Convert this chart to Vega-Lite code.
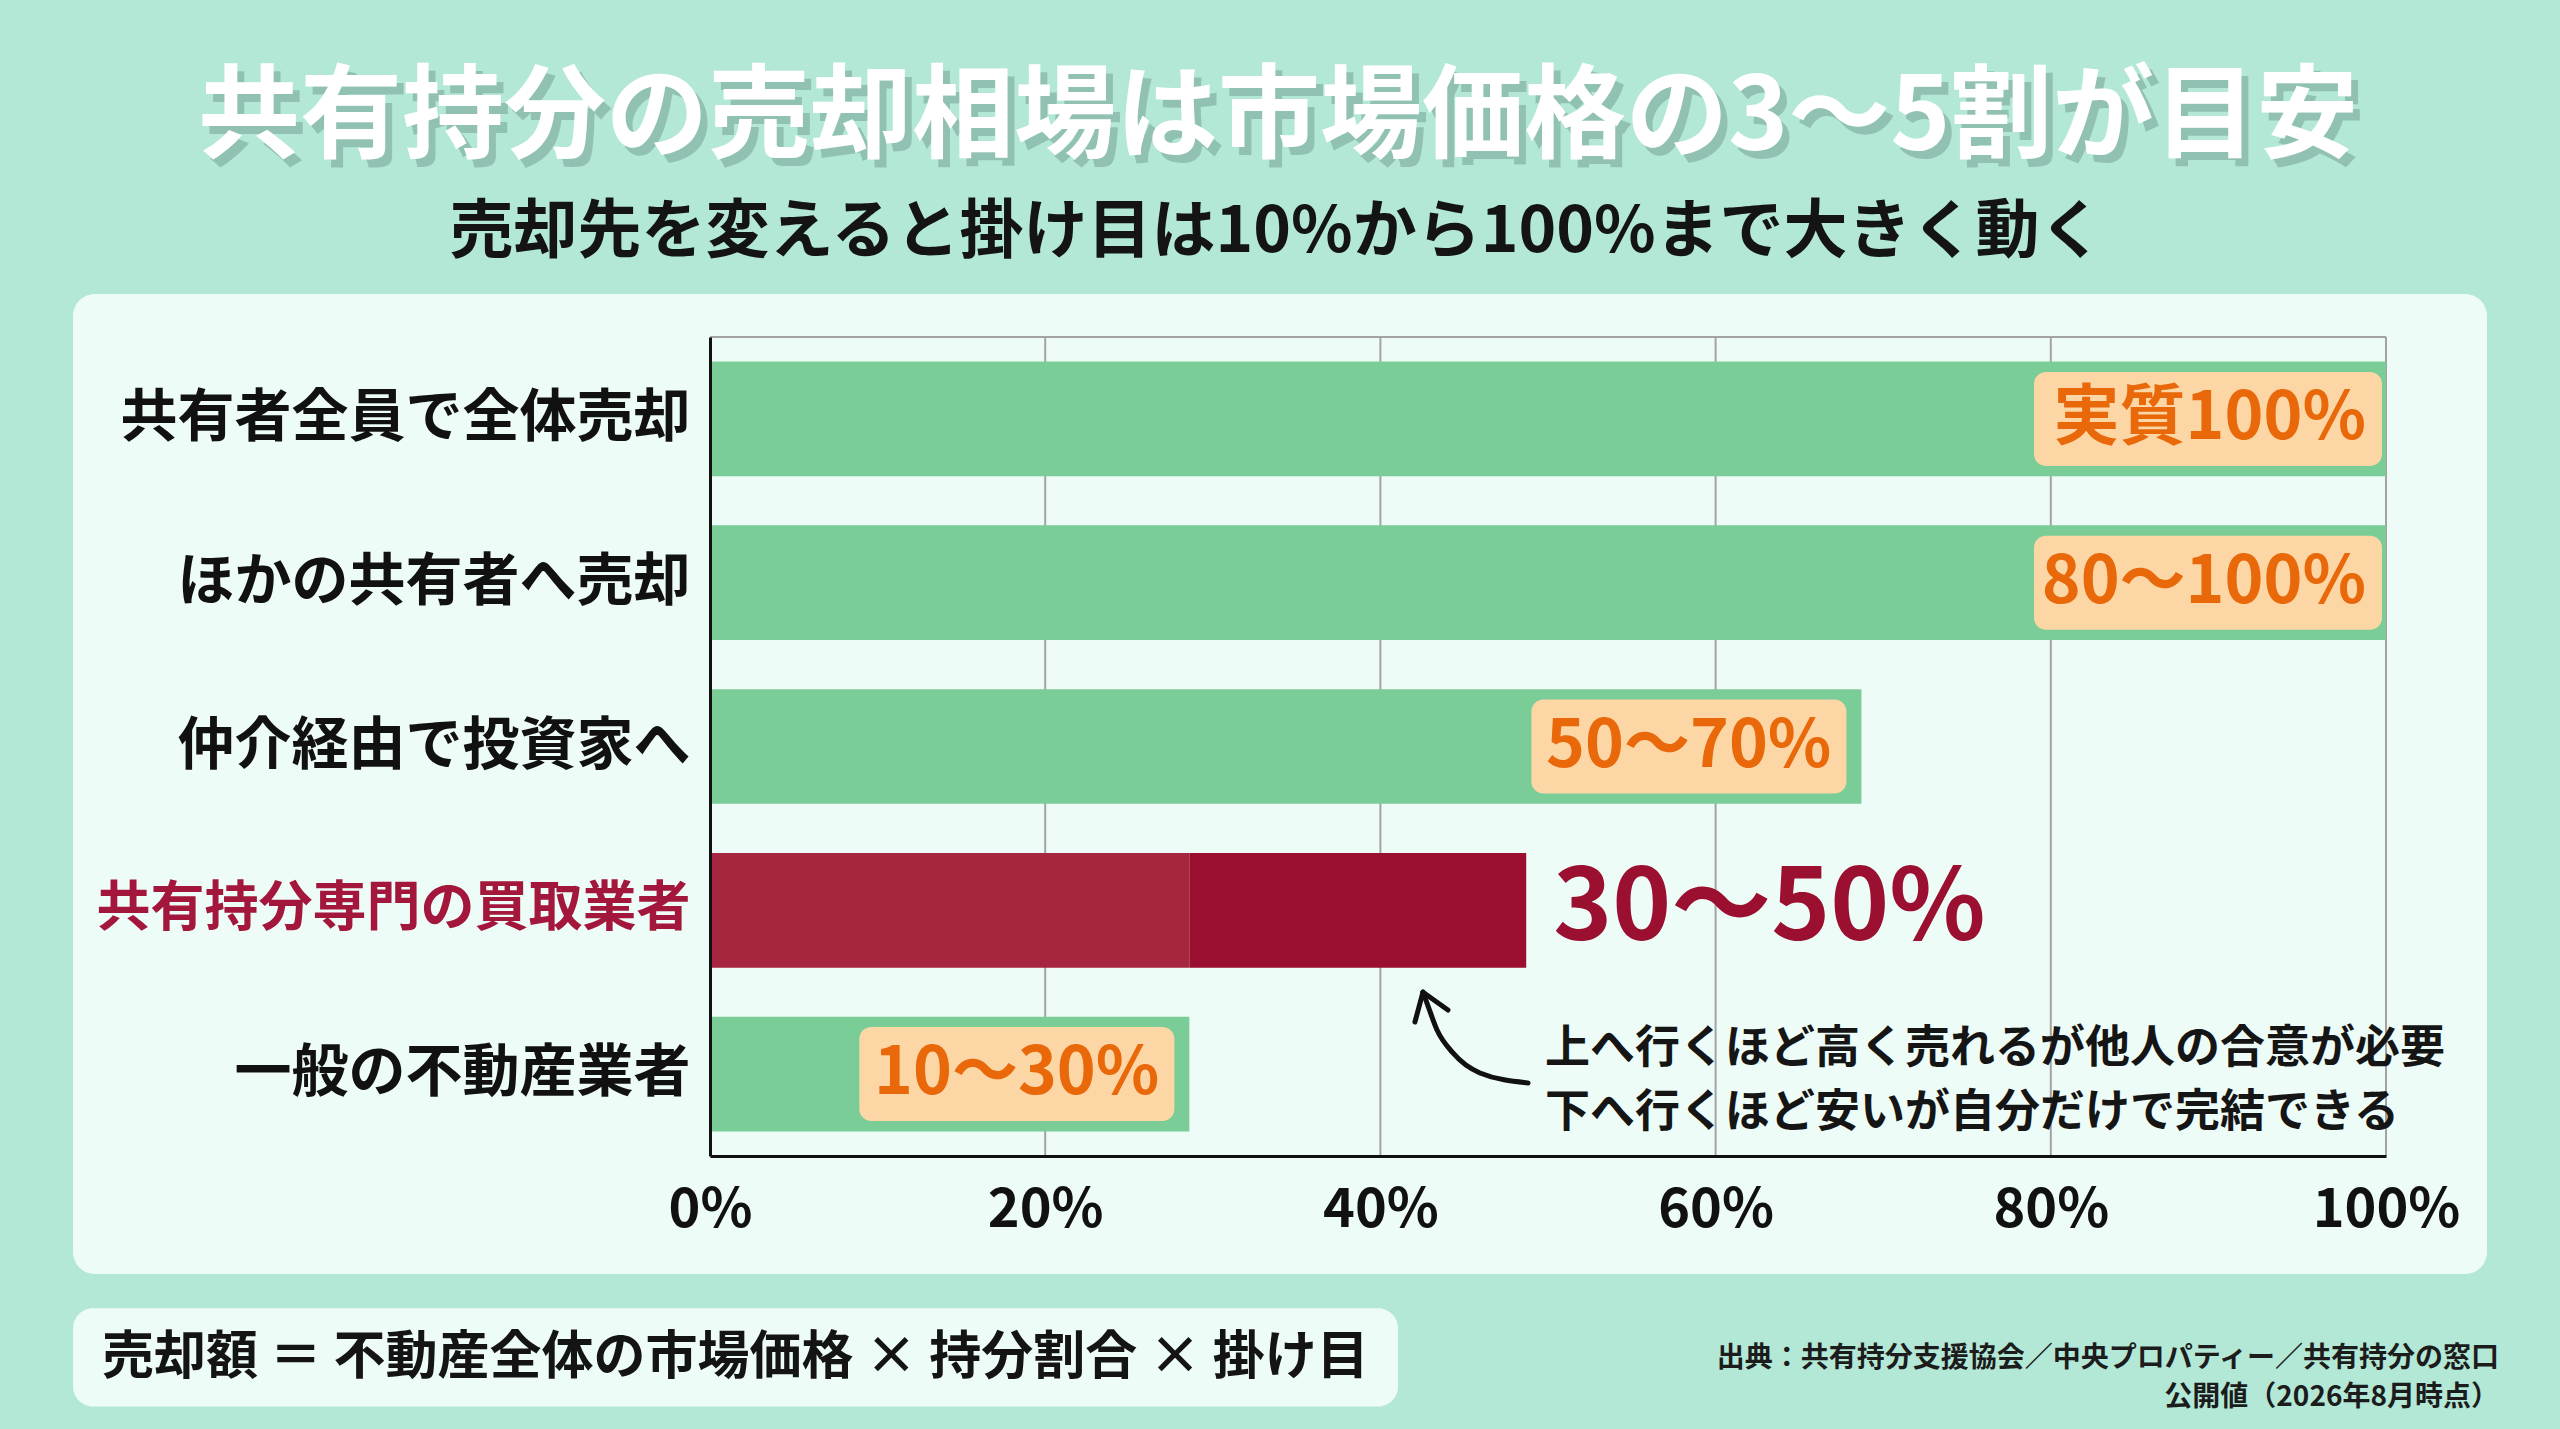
{
  "$schema": "https://vega.github.io/schema/vega-lite/v6.json",
  "width": 2414,
  "height": 980,
  "autosize": {"type": "none"},
  "padding": {"left": 73, "top": 294, "right": 73, "bottom": 155},
  "background": "#b3e8d7",
  "config": {
    "view": {"stroke": null, "fill": "#eefcf8", "cornerRadius": 22},
    "font": "Noto Sans CJK JP",
    "text": {"font": "Noto Sans CJK JP"}
  },
  "datasets": {
    "bars": [
      {"cat": "共有者全員で全体売却", "lo": 0, "hi": 100, "seg": "green"},
      {"cat": "ほかの共有者へ売却", "lo": 0, "hi": 100, "seg": "green"},
      {"cat": "仲介経由で投資家へ", "lo": 0, "hi": 68.7, "seg": "green"},
      {"cat": "共有持分専門の買取業者", "lo": 0, "hi": 28.6, "seg": "light"},
      {"cat": "共有持分専門の買取業者", "lo": 28.6, "hi": 48.7, "seg": "dark"},
      {"cat": "一般の不動産業者", "lo": 0, "hi": 28.6, "seg": "green"}
    ],
    "labels": [
      {"cat": "共有者全員で全体売却", "hi": 100, "label": "実質100%"},
      {"cat": "ほかの共有者へ売却", "hi": 100, "label": "80～100%"},
      {"cat": "仲介経由で投資家へ", "hi": 68.7, "label": "50～70%"},
      {"cat": "一般の不動産業者", "hi": 28.6, "label": "10～30%"}
    ],
    "arrow": [
      {"part": "curve", "o": 1, "ax": 42.54, "ay": 4.0},
      {"part": "curve", "o": 2, "ax": 42.78, "ay": 4.066},
      {"part": "curve", "o": 3, "ax": 43.38, "ay": 4.231},
      {"part": "curve", "o": 4, "ax": 44.33, "ay": 4.371},
      {"part": "curve", "o": 5, "ax": 45.94, "ay": 4.493},
      {"part": "curve", "o": 6, "ax": 48.81, "ay": 4.554},
      {"part": "head1", "o": 1, "ax": 44.03, "ay": 4.109},
      {"part": "head1", "o": 2, "ax": 42.54, "ay": 4.0},
      {"part": "head2", "o": 1, "ax": 42.06, "ay": 4.182},
      {"part": "head2", "o": 2, "ax": 42.54, "ay": 4.0}
    ]
  },
  "resolve": {"scale": {"y": "independent"}},
  "layer": [
    {
      "data": {"values": [{"name": "formula"}]},
      "mark": {"type": "rect", "fill": "#eefcf8", "cornerRadius": 20},
      "encoding": {
        "x": {"datum": -38.0, "type": "quantitative", "title": null},
        "x2": {"datum": 41.05},
        "y": {"datum": 5.93, "type": "quantitative", "scale": {"domain": [0, 5], "range": [43, 862], "nice": false, "zero": false}, "axis": null},
        "y2": {"datum": 6.53}
      }
    },
    {
      "data": {"values": [{"g": 20}, {"g": 40}, {"g": 60}, {"g": 80}, {"g": 100}]},
      "mark": {"type": "rule", "color": "#a3a3a3", "strokeWidth": 2},
      "encoding": {
        "x": {"field": "g", "type": "quantitative", "title": null},
        "y": {"datum": 0, "type": "quantitative", "scale": {"domain": [0, 5], "range": [43, 862], "nice": false, "zero": false}, "axis": null},
        "y2": {"datum": 5}
      }
    },
    {
      "data": {"values": [{"name": "top"}]},
      "mark": {"type": "rule", "color": "#a3a3a3", "strokeWidth": 2},
      "encoding": {
        "x": {"datum": 0, "type": "quantitative", "title": null},
        "x2": {"datum": 100},
        "y": {"datum": 0, "type": "quantitative", "scale": {"domain": [0, 5], "range": [43, 862], "nice": false, "zero": false}, "axis": null}
      }
    },
    {
      "data": {"name": "bars"},
      "mark": {"type": "bar", "orient": "horizontal"},
      "encoding": {
        "x": {
          "field": "lo", "type": "quantitative",
          "scale": {"domain": [0, 100], "range": [637, 2313], "nice": false},
          "axis": {
            "title": null, "values": [0, 20, 40, 60, 80, 100], "offset": -118,
            "labelExpr": "datum.value + '%'", "labelFontSize": 54, "labelFontWeight": "bold",
            "labelColor": "#111111", "labelFont": "Noto Sans CJK JP", "labelPadding": 27,
            "labelFlush": false, "labelOverlap": false, "ticks": false, "grid": false,
            "domainColor": "#111111", "domainWidth": 3, "zindex": 1
          }
        },
        "x2": {"field": "hi"},
        "y": {
          "field": "cat", "type": "nominal", "sort": null,
          "scale": {
            "domain": ["共有者全員で全体売却", "ほかの共有者へ売却", "仲介経由で投資家へ", "共有持分専門の買取業者", "一般の不動産業者"],
            "range": [43, 862], "paddingInner": 0.3, "paddingOuter": 0.15
          },
          "axis": {
            "title": null, "orient": "left", "offset": -637, "ticks": false, "labelLimit": 0,
            "labelFont": "Noto Sans CJK JP", "labelFontWeight": "bold", "labelPadding": 20,
            "labelFontSize": {"condition": {"test": "datum.value == '共有持分専門の買取業者'", "value": 54}, "value": 57},
            "labelColor": {"condition": {"test": "datum.value == '共有持分専門の買取業者'", "value": "#a3173c"}, "value": "#111111"},
            "domainColor": "#111111", "domainWidth": 3, "zindex": 1
          }
        },
        "color": {
          "field": "seg", "type": "nominal",
          "scale": {"domain": ["green", "light", "dark"], "range": ["#7bcd98", "#a7263f", "#9a0f30"]},
          "legend": null
        }
      }
    },
    {
      "data": {"name": "labels"},
      "transform": [{"filter": "datum.hi == 100"}],
      "mark": {"type": "bar", "orient": "horizontal", "color": "#fdd6a6", "cornerRadius": 12, "height": {"band": 0.82}, "xOffset": -352, "x2Offset": -4},
      "encoding": {
        "x": {"field": "hi", "type": "quantitative", "title": null},
        "x2": {"field": "hi"},
        "y": {"field": "cat", "type": "nominal", "sort": null, "axis": null,
              "scale": {"domain": ["共有者全員で全体売却", "ほかの共有者へ売却", "仲介経由で投資家へ", "共有持分専門の買取業者", "一般の不動産業者"], "range": [43, 862], "paddingInner": 0.3, "paddingOuter": 0.15}}
      }
    },
    {
      "data": {"name": "labels"},
      "transform": [{"filter": "datum.hi < 100"}],
      "mark": {"type": "bar", "orient": "horizontal", "color": "#fdd6a6", "cornerRadius": 12, "height": {"band": 0.82}, "xOffset": -330, "x2Offset": -15},
      "encoding": {
        "x": {"field": "hi", "type": "quantitative", "title": null},
        "x2": {"field": "hi"},
        "y": {"field": "cat", "type": "nominal", "sort": null, "axis": null,
              "scale": {"domain": ["共有者全員で全体売却", "ほかの共有者へ売却", "仲介経由で投資家へ", "共有持分専門の買取業者", "一般の不動産業者"], "range": [43, 862], "paddingInner": 0.3, "paddingOuter": 0.15}}
      }
    },
    {
      "data": {"name": "labels"},
      "transform": [{"filter": "datum.hi == 100"}],
      "mark": {"type": "text", "align": "right", "baseline": "middle", "dx": -20, "fontSize": 66, "fontWeight": "bold", "color": "#e8680a"},
      "encoding": {
        "x": {"field": "hi", "type": "quantitative", "title": null},
        "y": {"field": "cat", "type": "nominal", "sort": null, "axis": null,
              "scale": {"domain": ["共有者全員で全体売却", "ほかの共有者へ売却", "仲介経由で投資家へ", "共有持分専門の買取業者", "一般の不動産業者"], "range": [43, 862], "paddingInner": 0.3, "paddingOuter": 0.15}},
        "text": {"field": "label"}
      }
    },
    {
      "data": {"name": "labels"},
      "transform": [{"filter": "datum.hi < 100"}],
      "mark": {"type": "text", "align": "right", "baseline": "middle", "dx": -30, "fontSize": 66, "fontWeight": "bold", "color": "#e8680a"},
      "encoding": {
        "x": {"field": "hi", "type": "quantitative", "title": null},
        "y": {"field": "cat", "type": "nominal", "sort": null, "axis": null,
              "scale": {"domain": ["共有者全員で全体売却", "ほかの共有者へ売却", "仲介経由で投資家へ", "共有持分専門の買取業者", "一般の不動産業者"], "range": [43, 862], "paddingInner": 0.3, "paddingOuter": 0.15}},
        "text": {"field": "label"}
      }
    },
    {
      "data": {"values": [{"cat": "共有持分専門の買取業者", "hi": 48.7, "label": "30～50%"}]},
      "mark": {"type": "text", "align": "left", "baseline": "middle", "dx": 27, "fontSize": 100, "fontWeight": "bold", "color": "#9b1030"},
      "encoding": {
        "x": {"field": "hi", "type": "quantitative", "title": null},
        "y": {"field": "cat", "type": "nominal", "sort": null, "axis": null,
              "scale": {"domain": ["共有者全員で全体売却", "ほかの共有者へ売却", "仲介経由で投資家へ", "共有持分専門の買取業者", "一般の不動産業者"], "range": [43, 862], "paddingInner": 0.3, "paddingOuter": 0.15}},
        "text": {"field": "label"}
      }
    },
    {
      "data": {"name": "arrow"},
      "mark": {"type": "line", "color": "#111111", "strokeWidth": 5, "strokeCap": "round", "strokeJoin": "round", "interpolate": "monotone"},
      "encoding": {
        "x": {"field": "ax", "type": "quantitative", "title": null},
        "y": {"field": "ay", "type": "quantitative", "scale": {"domain": [0, 5], "range": [43, 862], "nice": false, "zero": false}, "axis": null},
        "detail": {"field": "part"},
        "order": {"field": "o"}
      }
    },
    {
      "data": {"values": [{"note": "上へ行くほど高く売れるが他人の合意が必要\n下へ行くほど安いが自分だけで完結できる"}]},
      "mark": {"type": "text", "align": "left", "baseline": "middle", "lineBreak": "\n", "lineHeight": 64, "fontSize": 45, "fontWeight": "bold", "color": "#151515"},
      "encoding": {
        "x": {"datum": 49.82, "type": "quantitative", "title": null},
        "y": {"datum": 4.347, "type": "quantitative", "scale": {"domain": [0, 5], "range": [43, 862], "nice": false, "zero": false}, "axis": null},
        "text": {"field": "note"}
      }
    },
    {
      "data": {"values": [{"t": "共有持分の売却相場は市場価格の3～5割が目安"}]},
      "mark": {"type": "text", "align": "center", "baseline": "middle", "dx": 7, "dy": 8, "fontSize": 102, "fontWeight": "bold", "color": "#1d3b33", "opacity": 0.22},
      "encoding": {
        "x": {"datum": 33.9, "type": "quantitative", "title": null},
        "y": {"datum": -1.33, "type": "quantitative", "scale": {"domain": [0, 5], "range": [43, 862], "nice": false, "zero": false}, "axis": null},
        "text": {"field": "t"}
      }
    },
    {
      "data": {"values": [{"t": "共有持分の売却相場は市場価格の3～5割が目安"}]},
      "mark": {"type": "text", "align": "center", "baseline": "middle", "fontSize": 102, "fontWeight": "bold", "color": "#ffffff"},
      "encoding": {
        "x": {"datum": 33.9, "type": "quantitative", "title": null},
        "y": {"datum": -1.33, "type": "quantitative", "scale": {"domain": [0, 5], "range": [43, 862], "nice": false, "zero": false}, "axis": null},
        "text": {"field": "t"}
      }
    },
    {
      "data": {"values": [{"t": "売却先を変えると掛け目は10%から100%まで大きく動く"}]},
      "mark": {"type": "text", "align": "center", "baseline": "middle", "fontSize": 64, "fontWeight": "bold", "color": "#141414"},
      "encoding": {
        "x": {"datum": 33.8, "type": "quantitative", "title": null},
        "y": {"datum": -0.635, "type": "quantitative", "scale": {"domain": [0, 5], "range": [43, 862], "nice": false, "zero": false}, "axis": null},
        "text": {"field": "t"}
      }
    },
    {
      "data": {"values": [{"t": "売却額 ＝ 不動産全体の市場価格 × 持分割合 × 掛け目"}]},
      "mark": {"type": "text", "align": "left", "baseline": "middle", "fontSize": 52, "fontWeight": "bold", "color": "#141414"},
      "encoding": {
        "x": {"datum": -36.28, "type": "quantitative", "title": null},
        "y": {"datum": 6.233, "type": "quantitative", "scale": {"domain": [0, 5], "range": [43, 862], "nice": false, "zero": false}, "axis": null},
        "text": {"field": "t"}
      }
    },
    {
      "data": {"values": [{"t": "出典：共有持分支援協会／中央プロパティー／共有持分の窓口\n公開値（2026年8月時点）"}]},
      "mark": {"type": "text", "align": "right", "baseline": "middle", "lineBreak": "\n", "lineHeight": 39, "fontSize": 28, "fontWeight": "bold", "color": "#1c1c1c"},
      "encoding": {
        "x": {"datum": 106.74, "type": "quantitative", "title": null},
        "y": {"datum": 6.24, "type": "quantitative", "scale": {"domain": [0, 5], "range": [43, 862], "nice": false, "zero": false}, "axis": null},
        "text": {"field": "t"}
      }
    }
  ]
}
